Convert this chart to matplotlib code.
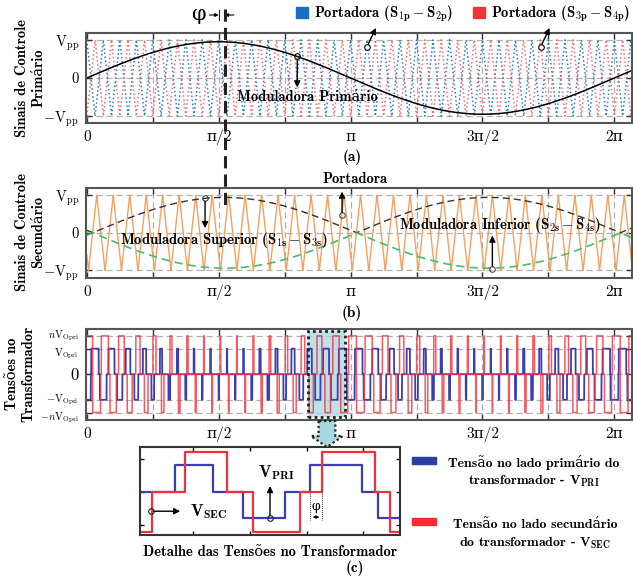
import numpy as np
import matplotlib.pyplot as plt
from matplotlib import patches, transforms
from matplotlib.lines import Line2D

plt.rcParams['font.family'] = ['cmb10', 'DejaVu Serif']
plt.rcParams['mathtext.fontset'] = 'cm'
plt.rcParams['axes.unicode_minus'] = False

# --- parametros do esquema ---
X_MAX = 2 * np.pi + 0.21
N_CARRIER = 32          # periodos da portadora em 2*pi
M_PRI = 0.95            # indice de modulacao primario
M_SEC = 0.94            # indice de modulacao secundario
PHI = 0.07              # defasagem (rad)
N_TURNS = 1.5           # relacao n

xtick_pos = np.arange(9) * np.pi / 4
xtick_lbl = ['0', '', 'π/2', '', 'π', '', '3π/2', '', '2π']

# detalhe (c): instantes de comutacao e niveis
det_t_pri = [0, 35, 73, 103, 145, 170, 222, 238, 260]
det_v_pri = [0, 1, 0, -1, 0, 1, 0, -1]
det_t_sec = [0, 12, 45, 87, 113, 160, 182, 235, 250, 260]
det_v_sec = [-1.5, 0, 1.5, 0, -1.5, 0, 1.5, 0, -1.5]

BLUE_C = '#2a7cc6'
RED_C = '#f0505c'
ORANGE = '#f6a060'
GREEN = '#45bd70'
BLUE_V = '#3a3fb0'
RED_V = '#f0303a'
GRID = '#b0b0b0'
TICKFONT = ['cmr10', 'DejaVu Serif']

W, H = 633, 581


def fx(px):
    return px / W


def fy(py):
    return 1 - py / H


t = np.linspace(0, X_MAX, 40000)
T = 2 * np.pi / N_CARRIER


def carrier(tt, t_trough):
    f = ((tt - t_trough) / T) % 1.0
    return 1 - 4 * np.abs(f - 0.5)


c_blue = carrier(t, T / 2)
c_red = carrier(t, 0.0)
c_org = carrier(t, 0.02)
m_pri = M_PRI * np.sin(t)
m_sup = M_SEC * np.abs(np.sin(t - PHI))
m_inf = -m_sup
v_pri = (m_pri > c_blue).astype(float) - (m_pri > c_red)
v_sec = N_TURNS * ((m_sup > c_org).astype(float) + (m_inf > c_org) - 1)

fig = plt.figure(figsize=(6.33, 5.81), dpi=100)
ax_a = fig.add_axes([fx(86), fy(123), fx(546), 90 / H])
ax_b = fig.add_axes([fx(86), fy(278), fx(546), 90 / H])
ax_c = fig.add_axes([fx(86), fy(420), fx(546), 91 / H])


def style(ax, ylim, yticks, ylabels, ysize):
    ax.set_xlim(-0.01, X_MAX)
    ax.set_ylim(*ylim)
    ax.set_xticks(xtick_pos)
    ax.set_xticklabels(xtick_lbl, family=TICKFONT, fontsize=11)
    ax.set_yticks(yticks)
    ax.set_yticklabels(ylabels, family=TICKFONT, fontsize=ysize)
    ax.tick_params(direction='in', top=True, right=True, length=4,
                   width=1, color='#333333', pad=5)
    for s in ax.spines.values():
        s.set_linewidth(1.5)
        s.set_color('#555555')
    for y in yticks:
        ax.axhline(y, color=GRID, ls=(0, (5, 3)), lw=0.9, zorder=0)
    for x in xtick_pos[1:]:
        ax.axvline(x, color=GRID, ls=(0, (5, 3)), lw=0.9, zorder=0)


# (a)
ax_a.plot(t, c_blue, color=BLUE_C, ls=':', lw=1.1)
ax_a.plot(t, c_red, color=RED_C, ls=':', lw=1.1, alpha=0.85)
ax_a.plot(t, m_pri, color='k', lw=1.1)
style(ax_a, (-1.18, 1.18), [-1, 0, 1],
      [r'$-\mathrm{V_{pp}}$', '0', r'$\mathrm{V_{pp}}$'], 10.5)

arr = dict(arrowstyle='-|>', color='k', lw=1.0, mutation_scale=9)
ax_a.plot([2.506], [M_PRI * np.sin(2.506)], 'o', mfc='none', mec='k', ms=4, mew=0.8)
ax_a.annotate('', xy=(2.506, -0.32), xytext=(2.506, M_PRI * np.sin(2.506)),
              arrowprops=arr)
ax_a.text(1.79, -0.5, 'Moduladora Primário', fontsize=10.5, va='center', ha='left')
for x0, y0 in [(3.337, 0.82), (5.406, 0.82)]:
    ax_a.plot([x0], [y0], 'o', mfc='white', mec='k', ms=4, mew=0.8, zorder=5)
    ax_a.annotate('', xy=(x0 + 0.12, 1.38), xytext=(x0, y0), arrowprops=arr,
                  annotation_clip=False)

fig.legend([patches.Patch(color='#1a6fc2'), patches.Patch(color='#ef3535')],
           [r'Portadora ($\mathbf{S_{1p}} - \mathbf{S_{2p}}$)',
            r'Portadora ($\mathbf{S_{3p}} - \mathbf{S_{4p}}$)'],
           loc='center', bbox_to_anchor=(fx(463), fy(14)), ncol=2, frameon=False,
           handlelength=0.8, handleheight=0.8, handletextpad=0.4,
           columnspacing=1.4, fontsize=10.5)

# (b)
ax_b.plot(t, c_org, color=ORANGE, lw=1.0)
ax_b.plot(t, m_sup, color='#333333', ls=(0, (5, 3)), lw=1.0)
ax_b.plot(t, m_inf, color=GREEN, ls=(0, (5, 3)), lw=1.2)
style(ax_b, (-1.2, 1.19), [-1, 0, 1],
      [r'$-\mathrm{V_{pp}}$', '0', r'$\mathrm{V_{pp}}$'], 10.5)

ax_b.plot([1.408], [M_SEC * np.sin(1.408 - PHI)], 'o', mfc='none', mec='#444', ms=4, mew=0.8)
ax_b.annotate('', xy=(1.408, 0.05), xytext=(1.408, M_SEC * np.sin(1.408 - PHI)),
              arrowprops=arr)
ax_b.text(0.40, -0.19, r'Moduladora Superior ($\mathbf{S_{1s}} - \mathbf{S_{3s}}$)',
          fontsize=10.5, va='center', ha='left')
ax_b.plot([3.04], [0.47], 'o', mfc='none', mec='#444', ms=4, mew=0.8)
ax_b.annotate('', xy=(3.04, 1.17), xytext=(3.04, 0.47), arrowprops=arr,
              annotation_clip=False)
ax_b.text(3.19, 1.42, 'Portadora', fontsize=10.5, va='center', ha='center')
ax_b.plot([4.83], [-0.96], 'o', mfc='none', mec='#444', ms=4, mew=0.8)
ax_b.annotate('', xy=(4.83, 0.0), xytext=(4.83, -0.96), arrowprops=arr)
ax_b.text(3.72, 0.20, r'Moduladora Inferior ($\mathbf{S_{2s}} - \mathbf{S_{4s}}$)',
          fontsize=10.5, va='center', ha='left')

# (c)
ax_c.plot(t, v_pri, color=BLUE_V, lw=1.3)
ax_c.plot(t, v_sec, color=RED_V, lw=1.1, alpha=0.8)
style(ax_c, (-1.79, 1.77), [-1.5, -1, 0, 1, 1.5],
      [r'$-n\mathrm{V_{Opri}}$', r'$-\mathrm{V_{Opri}}$', '0',
       r'$\mathrm{V_{Opri}}$', r'$n\mathrm{V_{Opri}}$'], 7.5)
c_labels = ax_c.get_yticklabels()
c_labels[2].set_fontsize(12)
# afasta levemente os rotulos vizinhos (espacamento de so 13 px)
for lbl, dy in zip(c_labels, [-2, 2, 0, -2, 2]):
    lbl.set_transform(lbl.get_transform() +
                      transforms.ScaledTranslation(0, dy / 72, fig.dpi_scale_trans))

box_x0, box_x1 = 2.64, 3.08
ax_c.add_patch(patches.Rectangle((box_x0, -1.67), box_x1 - box_x0, 3.38,
                                 facecolor='#a8d8e2', alpha=0.75, edgecolor='none',
                                 zorder=0.5))
ax_c.add_patch(patches.Rectangle((box_x0, -1.67), box_x1 - box_x0, 3.38,
                                 facecolor='none', edgecolor='#222',
                                 ls=(0, (1, 1.2)), lw=2, zorder=4, clip_on=False))

# seta de bloco para o detalhe
xc = (box_x0 + box_x1) / 2
bt = transforms.blended_transform_factory(ax_c.transData, fig.transFigure)
poly = [(xc - 0.1, fy(421)), (xc - 0.1, fy(436)), (xc - 0.19, fy(436)),
        (xc, fy(447)), (xc + 0.19, fy(436)), (xc + 0.1, fy(436)), (xc + 0.1, fy(421))]
fig.add_artist(patches.Polygon(poly, closed=True, transform=bt, facecolor='#a8d8e2',
                               edgecolor='#222', ls=(0, (1, 1.2)), lw=1.6))

# linha de defasagem phi
bt_a = transforms.blended_transform_factory(ax_a.transData, fig.transFigure)
fig.add_artist(Line2D([np.pi / 2 + PHI] * 2, [fy(9), fy(206)], transform=bt_a,
                      color='#222', lw=2.2, ls=(0, (4, 2))))
fig.add_artist(Line2D([np.pi / 2] * 2, [fy(10), fy(20)], transform=bt_a,
                      color='#222', lw=0.8))
ax_a.annotate('', xy=(np.pi / 2, fy(15)), xytext=(np.pi / 2 - 0.11, fy(15)),
              xycoords=bt_a, arrowprops=dict(arrowstyle='-|>', lw=0.8,
                                             mutation_scale=5, color='k',
                                             shrinkA=0, shrinkB=0))
ax_a.annotate('', xy=(np.pi / 2 + PHI, fy(15)), xytext=(np.pi / 2 + PHI + 0.11, fy(15)),
              xycoords=bt_a, arrowprops=dict(arrowstyle='-|>', lw=0.8,
                                             mutation_scale=5, color='k',
                                             shrinkA=0, shrinkB=0))
fig.text(fx(198), fy(15), 'φ', family='DejaVu Serif', fontsize=15,
         ha='center', va='center')

# rotulos dos eixos
fig.text(fx(30), fy(78), 'Sinais de Controle\nPrimário', rotation=90,
         ha='center', va='center', fontsize=10.5, linespacing=1.25)
fig.text(fx(30), fy(232), 'Sinais de Controle\nSecundário', rotation=90,
         ha='center', va='center', fontsize=10.5, linespacing=1.25)
fig.text(fx(20), fy(374), 'Tensões no\nTransformador', rotation=90,
         ha='center', va='center', fontsize=10.5, linespacing=1.25)

fig.text(fx(352), fy(157), '(a)', ha='center', va='center', fontsize=11)
fig.text(fx(352), fy(313), '(b)', ha='center', va='center', fontsize=11)

# detalhe (c)
ax_d = fig.add_axes([fx(140), fy(535), fx(260), 88 / H])
ax_d.step(det_t_pri, det_v_pri + [det_v_pri[-1]], where='post', color=BLUE_V, lw=1.6)
ax_d.step(det_t_sec, det_v_sec + [det_v_sec[-1]], where='post', color=RED_V, lw=1.6)
ax_d.set_xlim(0, 260)
ax_d.set_ylim(-1.63, 1.70)
ax_d.set_xticks([53, 110, 167, 223])
ax_d.set_yticks([-1.25, 0, 1.25])
ax_d.tick_params(direction='in', top=True, right=True, length=3, width=1,
                 labelbottom=False, labelleft=False)
for s in ax_d.spines.values():
    s.set_linewidth(1.5)
    s.set_color('#333333')

ax_d.plot([130], [-1], 'o', mfc='none', mec='#222', ms=4, mew=0.8, zorder=5)
ax_d.annotate('', xy=(130, 0.33), xytext=(130, -1), arrowprops=arr)
ax_d.text(118, 0.72, r'$\mathbf{V_{PRI}}$', fontsize=12, va='center', ha='left')
ax_d.plot([10.7], [-0.73], 'o', mfc='none', mec='#222', ms=4, mew=0.8, zorder=5)
ax_d.annotate('', xy=(43, -0.73), xytext=(10.7, -0.73), arrowprops=arr)
ax_d.text(50, -0.75, r'$\mathbf{V_{SEC}}$', fontsize=12, va='center', ha='left')
for xv in (170, 182):
    ax_d.plot([xv, xv], [0, -1.08], color='#333', lw=0.7, ls=(0, (1, 1)))
ax_d.annotate('', xy=(170, -0.95), xytext=(182, -0.95),
              arrowprops=dict(arrowstyle='<|-|>', lw=0.6, mutation_scale=4, color='k'))
ax_d.text(176, -0.54, 'φ', family='DejaVu Serif', fontsize=9, ha='center', va='center')

fig.text(fx(270), fy(552), 'Detalhe das Tensões no Transformador',
         ha='center', va='center', fontsize=10.5)
fig.text(fx(355), fy(568), '(c)', ha='center', va='center', fontsize=11)

# legenda do detalhe
fig.add_artist(patches.Rectangle((fx(412), fy(464)), fx(24), 7 / H,
                                 color='#2b3fa0', transform=fig.transFigure))
fig.add_artist(patches.Rectangle((fx(412), fy(525)), fx(24), 7 / H,
                                 color='#f03030', transform=fig.transFigure))
fig.text(fx(534), fy(472), 'Tensão no lado primário do\ntransformador - $\\mathbf{V_{PRI}}$',
         ha='center', va='center', fontsize=10, linespacing=1.4)
fig.text(fx(535), fy(535), 'Tensão no lado secundário\ndo transformador - $\\mathbf{V_{SEC}}$',
         ha='center', va='center', fontsize=10, linespacing=1.4)

fig.savefig('out.png', dpi=100)
